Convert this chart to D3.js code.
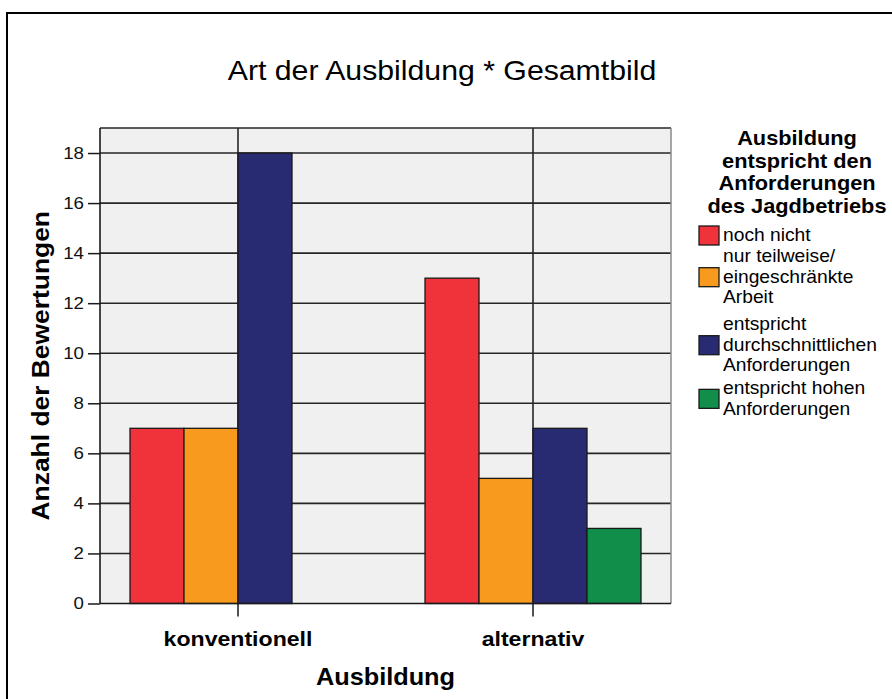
<!DOCTYPE html>
<html>
<head>
<meta charset="utf-8">
<script src="https://cdn.jsdelivr.net/npm/d3@7"></script>
<style>
  html, body { margin: 0; padding: 0; background: #ffffff; }
  svg { display: block; font-family: "Liberation Sans", Arial, sans-serif; }
</style>
</head>
<body>
<svg id="chart" width="892" height="699"></svg>
<script>
// ---- data ----
const categories = ["konventionell", "alternativ"];
const seriesNames = ["noch nicht", "nur teilweise/ eingeschränkte Arbeit", "entspricht durchschnittlichen Anforderungen", "entspricht hohen Anforderungen"];
const seriesLegendLines = [
  ["noch nicht"],
  ["nur teilweise/", "eingeschränkte", "Arbeit"],
  ["entspricht", "durchschnittlichen", "Anforderungen"],
  ["entspricht hohen", "Anforderungen"]
];
const noch_nicht = [7, 13];
const nur_teilweise = [7, 5];
const durchschnittlich = [18, 7];
const hoch = [0, 3];
const yTicks = [0, 2, 4, 6, 8, 10, 12, 14, 16, 18];
const titleText = "Art der Ausbildung * Gesamtbild";
const xTitle = "Ausbildung";
const yTitle = "Anzahl der Bewertungen";
const legendTitle = ["Ausbildung", "entspricht den", "Anforderungen", "des Jagdbetriebs"];
const colors = ["#f0323a", "#f89a1e", "#282a72", "#108e4a"];

const seriesValues = [noch_nicht, nur_teilweise, durchschnittlich, hoch];

// ---- layout ----
const svg = d3.select("#chart");
const SX = 1.1; // horizontal text stretch as in reference
const plot = { left: 100, right: 671, top: 128, bottom: 603.5 };

// outer frame
svg.append("rect").attr("x", 7).attr("y", 13).attr("width", 900).attr("height", 700)
  .attr("fill", "none").attr("stroke", "#000").attr("stroke-width", 2);

const y = d3.scaleLinear().domain([0, 19]).range([plot.bottom, plot.top]);
const x0 = d3.scaleBand().domain(categories).range([plot.left, plot.right])
  .paddingInner(0.2678).paddingOuter(0.1017);
const x1 = d3.scaleBand().domain(d3.range(seriesNames.length)).range([0, x0.bandwidth()]);

function txt(g, x, yy, s, opts) {
  const t = g.append("text")
    .attr("transform", `translate(${x},${yy})${opts.rotate ? " rotate(" + opts.rotate + ")" : ""} scale(${SX},1)`)
    .attr("text-anchor", opts.anchor || "start")
    .attr("font-size", opts.size)
    .attr("font-weight", opts.bold ? "bold" : "normal")
    .attr("fill", "#000")
    .text(s);
  return t;
}

// plot background
svg.append("rect").attr("x", plot.left).attr("y", plot.top)
  .attr("width", plot.right - plot.left).attr("height", plot.bottom - plot.top)
  .attr("fill", "#f0f0f0");

// horizontal gridlines
svg.append("g").selectAll("line").data(yTicks.filter(d => d > 0)).join("line")
  .attr("x1", plot.left).attr("x2", plot.right)
  .attr("y1", d => y(d)).attr("y2", d => y(d))
  .attr("stroke", "#262626").attr("stroke-width", 1.6);

// vertical gridlines at category centers
svg.append("g").selectAll("line").data(categories).join("line")
  .attr("x1", d => x0(d) + x0.bandwidth() / 2).attr("x2", d => x0(d) + x0.bandwidth() / 2)
  .attr("y1", plot.top).attr("y2", plot.bottom + 13)
  .attr("stroke", "#262626").attr("stroke-width", 1.6);

// plot top and right border
svg.append("line").attr("x1", plot.left).attr("x2", plot.right).attr("y1", plot.top).attr("y2", plot.top)
  .attr("stroke", "#262626").attr("stroke-width", 1.6);
svg.append("line").attr("x1", plot.right).attr("x2", plot.right).attr("y1", plot.top).attr("y2", plot.bottom)
  .attr("stroke", "#8a8a8a").attr("stroke-width", 1.5);

// bars
const barData = [];
categories.forEach((c, ci) => {
  seriesValues.forEach((vals, si) => {
    if (vals[ci] > 0) barData.push({ c, si, v: vals[ci] });
  });
});
svg.append("g").selectAll("rect").data(barData).join("rect")
  .attr("x", d => x0(d.c) + x1(d.si))
  .attr("y", d => y(d.v))
  .attr("width", x1.bandwidth())
  .attr("height", d => y(0) - y(d.v))
  .attr("fill", d => colors[d.si])
  .attr("stroke", "#1a1a1a").attr("stroke-width", 1.3);

// y axis
const yAxis = d3.axisLeft(y).tickValues(yTicks).tickSize(12).tickPadding(4).tickFormat(d3.format("d"));
const gy = svg.append("g").attr("transform", `translate(${plot.left},0)`).call(yAxis);
gy.select(".domain").attr("stroke", "#1a1a1a").attr("stroke-width", 1.6)
  .attr("d", `M0,${plot.top}V${plot.bottom}`);
gy.selectAll(".tick line").attr("stroke", "#1a1a1a").attr("stroke-width", 1.5);
gy.selectAll(".tick text").attr("font-size", 17).attr("fill", "#111")
  .attr("font-family", "'Liberation Sans', Arial, sans-serif")
  .attr("transform", function () { return `translate(-16,0) scale(${SX},1) translate(16,0)`; });

// x axis
const gx = svg.append("g").attr("transform", `translate(0,${plot.bottom})`);
gx.append("line").attr("x1", plot.left).attr("x2", plot.right).attr("y1", 0).attr("y2", 0)
  .attr("stroke", "#1a1a1a").attr("stroke-width", 1.6);
categories.forEach(c => {
  const cx = x0(c) + x0.bandwidth() / 2;
  txt(svg, cx, 646, c, { anchor: "middle", size: 21, bold: true });
});

// titles
txt(svg, 442, 80, titleText, { anchor: "middle", size: 27.5 });
txt(svg, (plot.left + plot.right) / 2, 685, xTitle, { anchor: "middle", size: 23, bold: true });
txt(svg, 49, (plot.top + plot.bottom) / 2, yTitle, { anchor: "middle", size: 24, bold: true, rotate: -90 });

// legend
const lg = svg.append("g");
legendTitle.forEach((l, i) => {
  txt(lg, 797, 145 + i * 22.5, l, { anchor: "middle", size: 19.8, bold: true });
});
const itemFirstBaselines = [241, 262, 330, 394];
const lineH = 20.7;
seriesLegendLines.forEach((lines, si) => {
  const b0 = itemFirstBaselines[si];
  lines.forEach((l, li) => {
    txt(lg, 723, b0 + li * lineH, l, { size: 17.5 });
  });
  const mid = (b0 + b0 + (lines.length - 1) * lineH) / 2 - 5.5;
  lg.append("rect").attr("x", 699).attr("y", mid - 9.5).attr("width", 20).attr("height", 19)
    .attr("fill", colors[si]).attr("stroke", "#1a1a1a").attr("stroke-width", 1.3);
});
</script>
</body>
</html>
